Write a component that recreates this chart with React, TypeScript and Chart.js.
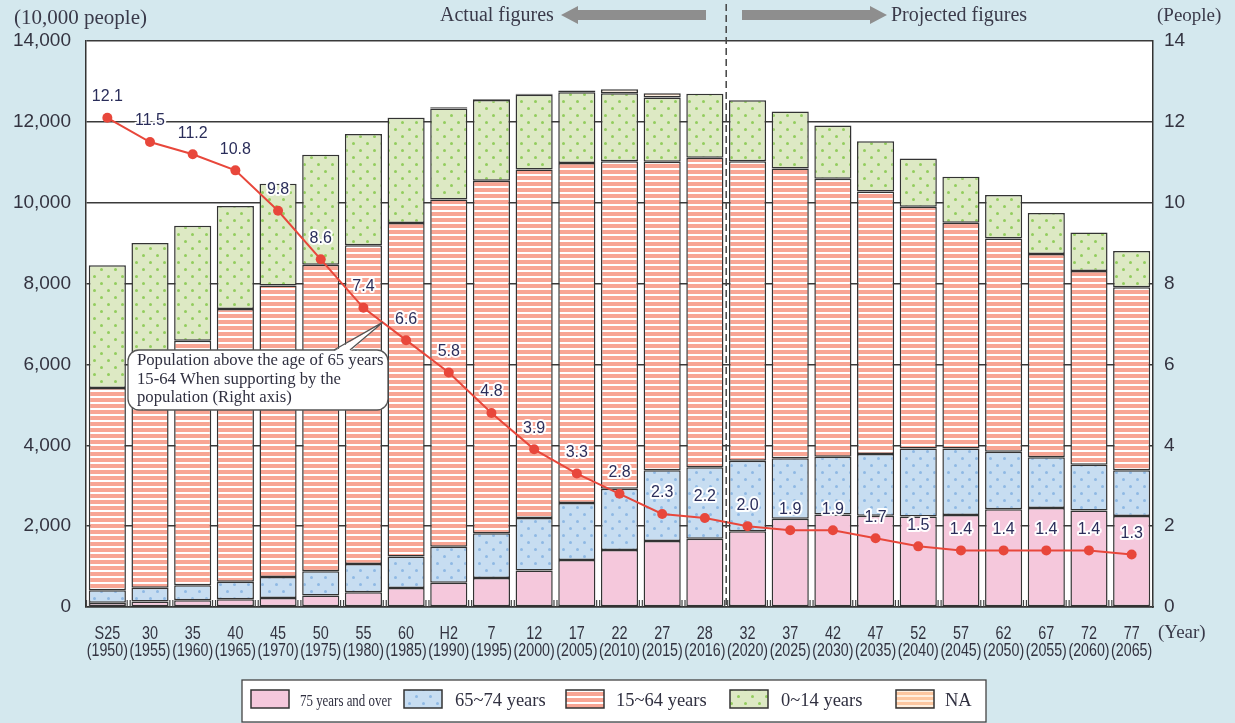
import React, { useEffect, useRef } from "react";
import { Chart, registerables } from "chart.js";

Chart.register(...registerables);

// ---- data (10,000 people) ----
const eraLabels = ["S25", "30", "35", "40", "45", "50", "55", "60", "H2", "7", "12", "17", "22", "27", "28", "32", "37", "42", "47", "52", "57", "62", "67", "72", "77"];
const yearLabels = ["1950", "1955", "1960", "1965", "1970", "1975", "1980", "1985", "1990", "1995", "2000", "2005", "2010", "2015", "2016", "2020", "2025", "2030", "2035", "2040", "2045", "2050", "2055", "2060", "2065"];
const age75plus = [107, 139, 164, 189, 224, 284, 366, 471, 597, 717, 901, 1164, 1407, 1632, 1691, 1872, 2180, 2288, 2260, 2239, 2277, 2417, 2446, 2387, 2248];
const age65to74 = [309, 338, 376, 435, 516, 602, 699, 776, 892, 1109, 1301, 1407, 1517, 1752, 1768, 1747, 1497, 1428, 1522, 1681, 1643, 1424, 1258, 1133, 1133];
const age15to64 = [5000, 5517, 6047, 6744, 7212, 7581, 7883, 8251, 8590, 8716, 8622, 8409, 8103, 7629, 7656, 7406, 7170, 6875, 6494, 5978, 5584, 5275, 5028, 4793, 4529];
const age0to14 = [3040, 3012, 2843, 2553, 2515, 2722, 2751, 2603, 2249, 2001, 1847, 1752, 1680, 1589, 1578, 1507, 1407, 1321, 1246, 1194, 1138, 1077, 1012, 951, 898];
const ageNA = [0, 0, 0, 0, 0, 0, 0, 4, 33, 14, 22, 45, 99, 107, 0, 0, 0, 0, 0, 0, 0, 0, 0, 0, 0];
const supportRatio = [12.1, 11.5, 11.2, 10.8, 9.8, 8.6, 7.4, 6.6, 5.8, 4.8, 3.9, 3.3, 2.8, 2.3, 2.2, 2.0, 1.9, 1.9, 1.7, 1.5, 1.4, 1.4, 1.4, 1.4, 1.3];
const leftTicks = [0, 2000, 4000, 6000, 8000, 10000, 12000, 14000];
const rightTicks = [0, 2, 4, 6, 8, 10, 12, 14];
const legendLabels = ["75 years and over", "65~74 years", "15~64 years", "0~14 years", "NA"];

const SERIF = "'Liberation Serif', 'DejaVu Serif', serif";
const SANS = "'Liberation Sans', Arial, sans-serif";

function dotPattern(bg: string, dot: string): CanvasPattern | string {
  const c = document.createElement("canvas");
  c.width = 14;
  c.height = 14;
  const g = c.getContext("2d");
  if (!g) return bg;
  g.fillStyle = bg;
  g.fillRect(0, 0, 14, 14);
  g.fillStyle = dot;
  const pts = [
    [3.5, 3.5],
    [10.5, 10.5],
  ];
  for (const [x, y] of pts) {
    g.beginPath();
    g.arc(x, y, 1.5, 0, Math.PI * 2);
    g.fill();
  }
  const p = g.createPattern(c, "repeat");
  return p || bg;
}

function stripePattern(bg: string, stripe: string, period: number, sw: number): CanvasPattern | string {
  const c = document.createElement("canvas");
  c.width = 4;
  c.height = period;
  const g = c.getContext("2d");
  if (!g) return bg;
  g.fillStyle = bg;
  g.fillRect(0, 0, 4, period);
  g.fillStyle = stripe;
  g.fillRect(0, 0, 4, sw);
  const p = g.createPattern(c, "repeat");
  return p || bg;
}

function drawArrow(ctx: CanvasRenderingContext2D, x0: number, x1: number, y: number, dir: number) {
  const shaft = 5;
  const head = 9;
  const hl = 17;
  ctx.beginPath();
  if (dir < 0) {
    ctx.moveTo(x0, y);
    ctx.lineTo(x0 + hl, y - head);
    ctx.lineTo(x0 + hl, y - shaft);
    ctx.lineTo(x1, y - shaft);
    ctx.lineTo(x1, y + shaft);
    ctx.lineTo(x0 + hl, y + shaft);
    ctx.lineTo(x0 + hl, y + head);
  } else {
    ctx.moveTo(x1, y);
    ctx.lineTo(x1 - hl, y - head);
    ctx.lineTo(x1 - hl, y - shaft);
    ctx.lineTo(x0, y - shaft);
    ctx.lineTo(x0, y + shaft);
    ctx.lineTo(x1 - hl, y + shaft);
    ctx.lineTo(x1 - hl, y + head);
  }
  ctx.closePath();
  ctx.fill();
}

function condensedText(ctx: CanvasRenderingContext2D, text: string, cx: number, y: number, sx: number, align: "center" | "left") {
  ctx.save();
  ctx.translate(cx, y);
  ctx.scale(sx, 1);
  ctx.textAlign = align;
  ctx.fillText(text, 0, 0);
  ctx.restore();
}

export default function App() {
  const ref = useRef<HTMLCanvasElement | null>(null);

  useEffect(() => {
    document.body.style.margin = "0";
    const canvas = ref.current;
    if (!canvas) return;

    const pink = "#f5c8dc";
    const blue = dotPattern("#c7ddf1", "#8fb9e4");
    const salmon = stripePattern("#f8a594", "#ffffff", 6, 2);
    const green = dotPattern("#dde9c4", "#93cd5e");
    const orange = stripePattern("#fdc7a0", "#fff0e0", 5, 2);
    const fills: (string | CanvasPattern)[] = [pink, blue, salmon, green, orange];

    const bgPlugin = {
      id: "bgPlugin",
      beforeDraw(chart: any) {
        const { ctx, chartArea } = chart;
        ctx.save();
        ctx.fillStyle = "#d4e8ee";
        ctx.fillRect(0, 0, chart.width, chart.height);
        ctx.fillStyle = "#ffffff";
        ctx.fillRect(chartArea.left, chartArea.top, chartArea.right - chartArea.left, chartArea.bottom - chartArea.top);
        ctx.restore();
      },
      afterDatasetsDraw(chart: any) {
        const { ctx, chartArea } = chart;
        const xs = chart.scales.x;
        const ys = chart.scales.y1;
        ctx.save();
        // small tick marks between bars at the bottom
        ctx.strokeStyle = "#444";
        ctx.lineWidth = 1.2;
        for (let i = 0; i <= eraLabels.length; i++) {
          let bx: number;
          if (i === 0) bx = chartArea.left + 2;
          else if (i === eraLabels.length) bx = chartArea.right - 2;
          else bx = (xs.getPixelForValue(i - 1) + xs.getPixelForValue(i)) / 2;
          ctx.beginPath();
          ctx.moveTo(bx - 1.5, chartArea.bottom - 7);
          ctx.lineTo(bx - 1.5, chartArea.bottom);
          ctx.moveTo(bx + 1.5, chartArea.bottom - 7);
          ctx.lineTo(bx + 1.5, chartArea.bottom);
          ctx.stroke();
        }
        // dashed divider between actual and projected
        const dx = (xs.getPixelForValue(14) + xs.getPixelForValue(15)) / 2;
        ctx.strokeStyle = "#444";
        ctx.lineWidth = 1.5;
        ctx.setLineDash([7, 4]);
        ctx.beginPath();
        ctx.moveTo(dx, 4);
        ctx.lineTo(dx, chartArea.bottom);
        ctx.stroke();
        ctx.setLineDash([]);
        ctx.restore();

        // line data labels
        ctx.save();
        ctx.font = `16px ${SANS}`;
        ctx.textAlign = "center";
        ctx.textBaseline = "middle";
        ctx.lineJoin = "round";
        supportRatio.forEach((v, i) => {
          const px = xs.getPixelForValue(i);
          const py = ys.getPixelForValue(v);
          const t = v.toFixed(1);
          ctx.strokeStyle = "rgba(255,255,255,0.95)";
          ctx.lineWidth = 4;
          ctx.strokeText(t, px, py - 21);
          ctx.fillStyle = "#2a2d5a";
          ctx.fillText(t, px, py - 21);
        });
        ctx.restore();
      },
      afterDraw(chart: any) {
        const { ctx, chartArea } = chart;
        const xs = chart.scales.x;
        const ys = chart.scales.y1;
        ctx.save();

        // x-axis category labels (condensed two-line labels)
        ctx.fillStyle = "#333340";
        ctx.font = `18px ${SANS}`;
        ctx.textBaseline = "middle";
        eraLabels.forEach((e, i) => {
          const px = xs.getPixelForValue(i);
          condensedText(ctx, e, px, chartArea.bottom + 27, 0.8, "center");
          condensedText(ctx, `(${yearLabels[i]})`, px, chartArea.bottom + 44, 0.79, "center");
        });
        ctx.textBaseline = "alphabetic";

        // header texts
        ctx.fillStyle = "#3a3a4a";
        ctx.textAlign = "left";
        ctx.font = `21px ${SERIF}`;
        ctx.fillText("(10,000 people)", 14, 24);
        ctx.font = `19px ${SERIF}`;
        ctx.fillText("(People)", 1157, 21);
        ctx.fillText("(Year)", 1158, 638);
        ctx.font = `20px ${SERIF}`;
        ctx.fillText("Actual figures", 440, 21);
        ctx.fillText("Projected figures", 891, 21);
        ctx.fillStyle = "#8e8e8e";
        drawArrow(ctx, 561, 706, 15, -1);
        drawArrow(ctx, 742, 887, 15, 1);

        // annotation callout
        const bx = 128, by = 350, bw = 260, bh = 60, r = 11;
        const i0 = 6, i1 = 7, tt = 0.45;
        const tipX = xs.getPixelForValue(i0) + (xs.getPixelForValue(i1) - xs.getPixelForValue(i0)) * tt;
        const tipY = ys.getPixelForValue(supportRatio[i0]) + (ys.getPixelForValue(supportRatio[i1]) - ys.getPixelForValue(supportRatio[i0])) * tt;
        ctx.fillStyle = "#ffffff";
        ctx.strokeStyle = "#555";
        ctx.lineWidth = 1.3;
        ctx.beginPath();
        ctx.roundRect(bx, by, bw, bh, r);
        ctx.fill();
        ctx.stroke();
        ctx.beginPath();
        ctx.moveTo(334, by + 1.5);
        ctx.lineTo(tipX, tipY);
        ctx.lineTo(350, by + 1.5);
        ctx.closePath();
        ctx.fill();
        ctx.beginPath();
        ctx.moveTo(334, by);
        ctx.lineTo(tipX, tipY);
        ctx.lineTo(350, by);
        ctx.stroke();
        ctx.fillStyle = "#303040";
        ctx.font = `16.7px ${SERIF}`;
        ctx.textAlign = "left";
        ctx.fillText("Population above the age of 65 years", 137, 365);
        ctx.fillText("15-64 When supporting by the", 137, 384);
        ctx.fillText("population (Right axis)", 137, 402);

        // legend
        const lx = 242, ly = 680, lw = 744, lh = 42;
        ctx.fillStyle = "#ffffff";
        ctx.fillRect(lx, ly, lw, lh);
        ctx.strokeStyle = "#444";
        ctx.lineWidth = 1.3;
        ctx.strokeRect(lx, ly, lw, lh);
        const sw = [251, 404, 566, 730, 896];
        const tx = [300, 455, 616, 781, 945];
        for (let i = 0; i < 5; i++) {
          ctx.fillStyle = fills[i] as any;
          ctx.fillRect(sw[i], 690, 38, 18);
          ctx.strokeStyle = "#333";
          ctx.lineWidth = 1.5;
          ctx.strokeRect(sw[i], 690, 38, 18);
          ctx.fillStyle = "#303040";
          if (i === 0) {
            ctx.font = `17px ${SERIF}`;
            condensedText(ctx, legendLabels[i], tx[i], 706, 0.76, "left");
          } else {
            ctx.font = `18.5px ${SERIF}`;
            ctx.textAlign = "left";
            ctx.fillText(legendLabels[i], tx[i], 706);
          }
        }
        ctx.restore();
      },
    };

    const barCommon = {
      type: "bar" as const,
      yAxisID: "y",
      stack: "pop",
      borderColor: "#333333",
      borderWidth: 1.5,
      borderSkipped: false,
      barPercentage: 0.87,
      categoryPercentage: 1.0,
      order: 2,
    };

    const chart = new Chart(canvas, {
      type: "bar",
      data: {
        labels: eraLabels.map((e, i) => `${e} (${yearLabels[i]})`),
        datasets: [
          {
            type: "line",
            label: "ratio",
            data: supportRatio,
            yAxisID: "y1",
            borderColor: "#e8473b",
            borderWidth: 2,
            backgroundColor: "#e8473b",
            pointBackgroundColor: "#e8473b",
            pointBorderWidth: 0,
            pointRadius: 5,
            tension: 0,
            order: 0,
          } as any,
          { ...barCommon, label: legendLabels[0], data: age75plus, backgroundColor: pink } as any,
          { ...barCommon, label: legendLabels[1], data: age65to74, backgroundColor: blue } as any,
          { ...barCommon, label: legendLabels[2], data: age15to64, backgroundColor: salmon } as any,
          { ...barCommon, label: legendLabels[3], data: age0to14, backgroundColor: green } as any,
          { ...barCommon, label: legendLabels[4], data: ageNA, backgroundColor: orange } as any,
        ],
      },
      options: {
        animation: false,
        responsive: false,
        maintainAspectRatio: false,
        layout: { padding: { top: 41, left: 0, right: 0, bottom: 0 } },
        plugins: {
          legend: { display: false },
          tooltip: { enabled: false },
          title: { display: false },
        },
        scales: {
          x: {
            stacked: true,
            offset: true,
            grid: { display: false, drawTicks: false },
            border: { display: true, color: "#333", width: 1.5 },
            ticks: { display: false, autoSkip: false },
            afterFit(scale: any) {
              scale.height = 116;
            },
          },
          y: {
            position: "left",
            stacked: true,
            min: 0,
            max: 14000,
            afterBuildTicks(scale: any) {
              scale.ticks = leftTicks.map((v) => ({ value: v }));
            },
            grid: { color: "#3a3a3a", lineWidth: 1.5, drawTicks: false },
            border: { display: true, color: "#333", width: 1.5 },
            ticks: {
              color: "#333340",
              font: { family: SANS, size: 19 },
              padding: 15,
              callback: (v: any) => Number(v).toLocaleString("en-US"),
            },
            afterFit(scale: any) {
              scale.width = 86;
            },
          },
          y1: {
            position: "right",
            min: 0,
            max: 14,
            afterBuildTicks(scale: any) {
              scale.ticks = rightTicks.map((v) => ({ value: v }));
            },
            grid: { display: false, drawTicks: false },
            border: { display: true, color: "#333", width: 1.5 },
            ticks: {
              color: "#333340",
              font: { family: SANS, size: 19 },
              padding: 11,
            },
            afterFit(scale: any) {
              scale.width = 82;
            },
          },
        },
      },
      plugins: [bgPlugin],
    } as any);

    return () => {
      chart.destroy();
    };
  }, []);

  return (
    <div style={{ width: 1235, height: 723, position: "relative" }}>
      <canvas ref={ref} width={1235} height={723} style={{ display: "block", width: 1235, height: 723 }} />
    </div>
  );
}
